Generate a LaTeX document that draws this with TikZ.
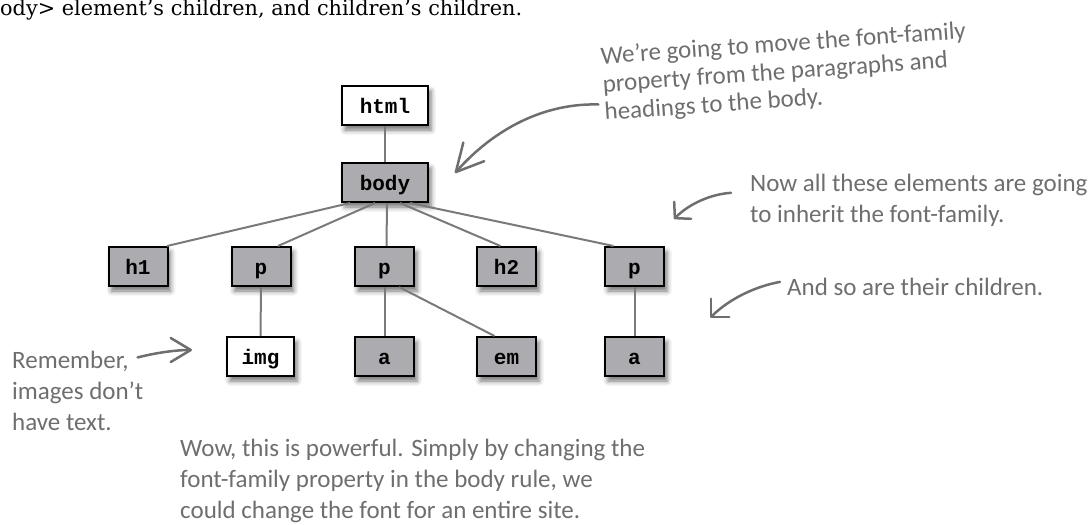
\documentclass[tikz,border=0pt]{standalone}
\usepackage{fontspec}
\newfontfamily\handfont{Carlito}
\newfontfamily\codefont{Liberation Mono}
\newfontfamily\introfont{DejaVu Serif}
\usetikzlibrary{arrows.meta, shadows.blur}
\definecolor{elemgray}{RGB}{172,172,176}
\definecolor{linkgray}{RGB}{122,122,122}
\definecolor{notegray}{RGB}{110,110,110}

\begin{document}
\begin{tikzpicture}[x=1pt, y=-1pt,
        elem/.style={rectangle, draw, line width=2pt, fill=elemgray,
            minimum width=59pt, minimum height=39pt, inner sep=0pt,
            text height=15pt, text depth=0pt,
            font=\codefont\bfseries\fontsize{21}{24}\selectfont,
            blur shadow={shadow xshift=3pt, shadow yshift=-5pt,
                shadow blur radius=5pt, shadow opacity=55}},
        plain/.style={elem, fill=white},
        link/.style={linkgray, line width=2pt},
        note/.style={notegray, font=\handfont\fontsize{25}{31}\selectfont,
            align=left, inner sep=0pt, anchor=base west},
        pointer/.style={notegray, line width=2.5pt, line cap=round},
    ]
        \useasboundingbox (0,0) rectangle (1088,525);

        % Intro line
        \node[anchor=base west, inner sep=0pt, font=\introfont\fontsize{20.8}{24}\selectfont]
            (intro) at (0,15) {ody> element’s children, and children’s children.};

        % Root and body
        \node[plain, minimum width=86pt] (html) at (385,105.5) {html};
        \node[elem, minimum width=86pt] (body) at (385,182.5) {body};

        % Children of body
        \foreach \x/\name/\tag in {138/h1/h1, 261/p1/p, 384.5/p2/p, 506.5/h2/h2, 634.5/p3/p} {
            \node[elem] (\name) at (\x,266.5) {\tag};
        }

        % Grandchildren
        \node[plain, minimum width=67pt] (img) at (260.5,356.5) {img};
        \node[elem] (a1) at (384.5,356.5) {a};
        \node[elem] (em) at (506.5,356.5) {em};
        \node[elem] (a2) at (634.5,356.5) {a};

        % Tree links
        \draw[link] (html) -- (body);
        \draw[link] ([xshift=-35pt]body.south) -- ([xshift=29pt]h1.north);
        \draw[link] ([xshift=-10pt]body.south) -- ([xshift=17pt]p1.north);
        \draw[link] ([xshift=2pt]body.south) -- ([xshift=2pt]p2.north);
        \draw[link] ([xshift=15pt]body.south) -- ([xshift=-6pt]h2.north);
        \draw[link] ([xshift=25pt]body.south) -- ([xshift=-21pt]p3.north);
        \draw[link] (p1) -- (img);
        \draw[link] (p2) -- (a1);
        \draw[link] ([xshift=14.5pt]p2.south) -- ([xshift=-12pt]em.north);
        \draw[link] (p3) -- (a2);

        % Notes (placed by the baseline of their last line)
        \node[note, rotate=4, font=\handfont\fontsize{25}{28}\selectfont] (move) at (605,120)
            {We’re going to move the font-family\\property from the paragraphs and\\headings to the body.};
        \node[note] (inherit) at (750,222)
            {Now all these elements are going\\to inherit the font-family.};
        \node[note] (kids) at (787,295) {And so are their children.};
        \node[note] (remember) at (12,430) {Remember,\\images don’t\\have text.};
        \node[note] (wow) at (180,518)
            {Wow, this is powerful. Simply by changing the\\font-family property in the body rule, we\\could change the font for an entire site.};

        % Arrow tips
        \coordinate (movetip) at (455,173);
        \coordinate (inherittip) at (674,219);
        \coordinate (kidstip) at (710,318);
        \coordinate (remembertip) at (192,350);

        % Pointers
        \draw[pointer, -{Straight Barb[length=27pt, width=28pt, round]}]
            ([shift={(-7pt,20pt)}]move.south west) .. controls (545,103) and (495,128) .. (movetip);
        \draw[pointer, -{Straight Barb[length=11pt, width=24pt, round]}]
            ([shift={(-19pt,7pt)}]inherit.west) .. controls (712,194) and (690,203) .. (inherittip);
        \draw[pointer, -{Straight Barb[length=13pt, width=26pt, round]}]
            ([shift={(-7pt,4.5pt)}]kids.west) .. controls (757,286) and (730,298) .. (kidstip);
        \draw[pointer, -{Straight Barb[length=20pt, width=24pt, round]}]
            ([shift={(-6pt,-7pt)}]remember.north east) .. controls (155,353) and (175,350) .. (remembertip);
    \end{tikzpicture}
\end{document}
